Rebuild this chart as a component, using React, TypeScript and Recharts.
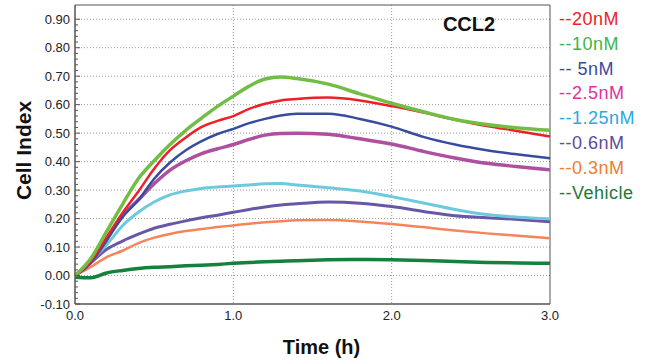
import React from 'react';
import { LineChart, Line, XAxis, YAxis, CartesianGrid, ReferenceArea } from 'recharts';

const times = [0, 0.1, 0.2, 0.3, 0.4, 0.5, 0.6, 0.7, 0.8, 0.9, 1.0, 1.1, 1.2, 1.3, 1.4, 1.6, 1.8, 2.0, 2.2, 2.4, 2.6, 2.8, 3.0];

const ci20nM = [0, 0.05, 0.135, 0.22, 0.295, 0.375, 0.44, 0.485, 0.522, 0.543, 0.56, 0.585, 0.603, 0.615, 0.62, 0.625, 0.615, 0.595, 0.572, 0.547, 0.525, 0.507, 0.488];
const ci10nM = [0, 0.06, 0.155, 0.25, 0.34, 0.403, 0.46, 0.51, 0.553, 0.594, 0.63, 0.665, 0.69, 0.697, 0.692, 0.672, 0.638, 0.605, 0.575, 0.548, 0.53, 0.518, 0.51];
const ci5nM = [0, 0.045, 0.125, 0.205, 0.265, 0.34, 0.397, 0.44, 0.472, 0.497, 0.515, 0.535, 0.55, 0.562, 0.568, 0.568, 0.55, 0.523, 0.487, 0.46, 0.44, 0.425, 0.412];
const ci2_5nM = [0, 0.045, 0.125, 0.21, 0.265, 0.322, 0.37, 0.403, 0.428, 0.445, 0.46, 0.478, 0.493, 0.499, 0.5, 0.496, 0.48, 0.462, 0.436, 0.413, 0.394, 0.382, 0.371];
const ci1_25nM = [0, 0.05, 0.108, 0.175, 0.222, 0.258, 0.283, 0.297, 0.306, 0.311, 0.314, 0.318, 0.322, 0.323, 0.318, 0.308, 0.297, 0.277, 0.255, 0.232, 0.214, 0.205, 0.199];
const ci0_6nM = [0, 0.045, 0.092, 0.121, 0.145, 0.166, 0.18, 0.192, 0.203, 0.212, 0.222, 0.232, 0.241, 0.248, 0.252, 0.258, 0.254, 0.242, 0.225, 0.21, 0.203, 0.197, 0.189];
const ci0_3nM = [0, 0.03, 0.065, 0.087, 0.114, 0.133, 0.146, 0.156, 0.163, 0.17, 0.176, 0.182, 0.187, 0.191, 0.194, 0.195, 0.19, 0.181, 0.17, 0.158, 0.148, 0.14, 0.131];
const ciVehicle = [-0.006, -0.008, 0.009, 0.018, 0.025, 0.029, 0.031, 0.034, 0.036, 0.039, 0.043, 0.046, 0.048, 0.05, 0.052, 0.055, 0.056, 0.055, 0.053, 0.049, 0.046, 0.044, 0.043];

const seriesKeys = ['vehicle', 'c03', 'c06', 'c125', 'c25', 'c5', 'c20', 'c10'];
const legendLabels = ['--20nM', '--10nM', '-- 5nM', '--2.5nM', '--1.25nM', '--0.6nM', '--0.3nM', '--Vehicle'];
const legendColors = ['#ec2227', '#3db54a', '#3b4a9e', '#e2309a', '#27aae1', '#5a4b9c', '#f07c2c', '#1b7a3a'];

const xTicks = [0, 1, 2, 3];
const yMajorTicks = [-0.1, 0, 0.1, 0.2, 0.3, 0.4, 0.5, 0.6, 0.7, 0.8, 0.9];
const yAllTicks = Array.from({ length: 51 }, (_, i) => Math.round(-10 + i * 2) / 100);

const data = times.map((t, i) => ({
  t,
  c20: ci20nM[i],
  c10: ci10nM[i],
  c5: ci5nM[i],
  c25: ci2_5nM[i],
  c125: ci1_25nM[i],
  c06: ci0_6nM[i],
  c03: ci0_3nM[i],
  vehicle: ciVehicle[i],
}));

const lineStyle: Record<string, { color: string; width: number }> = {
  c20: { color: '#ee1f26', width: 2.5 },
  c10: { color: '#72be45', width: 3.5 },
  c5: { color: '#384c9e', width: 2.5 },
  c25: { color: '#ae4fa0', width: 3.5 },
  c125: { color: '#6ccadc', width: 3 },
  c06: { color: '#6757a6', width: 3 },
  c03: { color: '#f6845b', width: 2.5 },
  vehicle: { color: '#17803c', width: 3.5 },
};

const font = '"Liberation Sans", Arial, sans-serif';

const YTick = (props: any) => {
  const { x, y, payload } = props;
  const v = payload.value;
  const major = Math.abs(v * 10 - Math.round(v * 10)) < 1e-6;
  return (
    <g>
      <line x1={x} x2={x + (major ? 5 : 3)} y1={y} y2={y} stroke="#555" strokeWidth={1} />
      {major && (
        <text x={x - 5} y={y} dy="0.36em" textAnchor="end" fontSize={13} fontFamily={font} fill="#222">
          {v.toFixed(2)}
        </text>
      )}
    </g>
  );
};

export default function App() {
  return (
    <div style={{ position: 'absolute', left: 0, top: 0, width: 650, height: 363, background: '#fff' }}>
      <LineChart width={650} height={363} data={data} margin={{ top: 5, right: 100, bottom: 0, left: 0 }}>
        <CartesianGrid horizontalValues={yMajorTicks.filter((v) => v > -0.1)} verticalValues={[1, 2]} stroke="#999" strokeDasharray="1 2" />
        <XAxis
          dataKey="t"
          type="number"
          domain={[0, 3]}
          ticks={xTicks}
          tickFormatter={(v: number) => v.toFixed(1)}
          tickLine={false}
          tickSize={0}
          tickMargin={7}
          height={59}
          axisLine={{ stroke: '#555' }}
          tick={{ fontSize: 13, fontFamily: font, fill: '#222' }}
          label={{
            content: (p: any) => {
              const vb = p.viewBox;
              return (
                <text x={vb.x + vb.width / 2 + 9} y={vb.y + 50} textAnchor="middle" fontSize={20} fontWeight="bold" fontFamily={font} fill="#111">
                  Time (h)
                </text>
              );
            },
          }}
        />
        <YAxis
          type="number"
          domain={[-0.1, 0.95]}
          ticks={yAllTicks}
          interval={0}
          width={75}
          tickLine={false}
          tickSize={0}
          tickMargin={0}
          axisLine={{ stroke: '#555' }}
          tick={<YTick />}
          label={{
            content: (p: any) => {
              const vb = p.viewBox;
              const cx = vb.x + 23;
              const cy = vb.y + vb.height / 2 - 4;
              return (
                <text x={cx} y={cy} transform={`rotate(-90, ${cx}, ${cy})`} textAnchor="middle" dominantBaseline="central" fontSize={21} fontWeight="bold" fontFamily={font} fill="#111">
                  Cell Index
                </text>
              );
            },
          }}
        />
        {seriesKeys.map((k) => (
          <Line
            key={k}
            dataKey={k}
            type="monotone"
            stroke={lineStyle[k].color}
            strokeWidth={lineStyle[k].width}
            dot={false}
            isAnimationActive={false}
          />
        ))}
        <ReferenceArea
          x1={0}
          x2={3}
          y1={-0.1}
          y2={0.95}
          fill="none"
          fillOpacity={0}
          stroke="#555"
          strokeWidth={1}
          label={{
            content: (p: any) => {
              const vb = p.viewBox;
              return (
                <text x={vb.x + vb.width - 81} y={vb.y + 26} textAnchor="middle" fontSize={20} fontWeight="bold" fontFamily={font} fill="#111">
                  CCL2
                </text>
              );
            },
          }}
        />
      </LineChart>
      <div style={{ position: 'absolute', left: 559, top: 7, fontFamily: font, fontSize: 18, lineHeight: '24.8px', letterSpacing: 0.5, whiteSpace: 'pre' }}>
        {legendLabels.map((l, i) => (
          <div key={l} style={{ color: legendColors[i] }}>{l}</div>
        ))}
      </div>
    </div>
  );
}
